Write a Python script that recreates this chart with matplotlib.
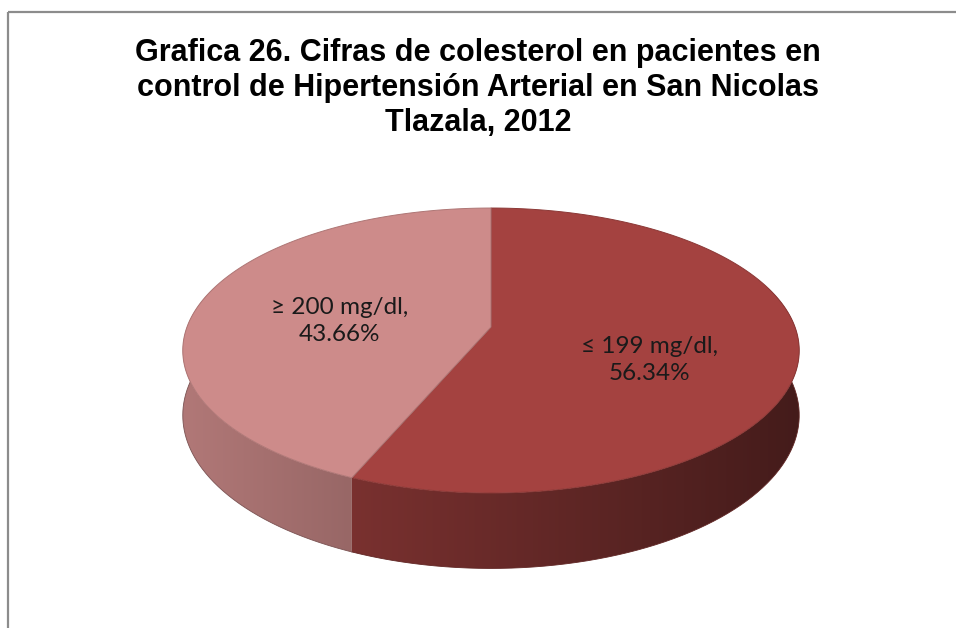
import numpy as np
import matplotlib.pyplot as plt
from matplotlib.patches import Polygon, Rectangle
from matplotlib.colors import to_rgb

# data
title = ("Grafica 26. Cifras de colesterol en pacientes en\n"
         "control de Hipertensión Arterial en San Nicolas\n"
         "Tlazala, 2012")
categories = ["≤ 199 mg/dl", "≥ 200 mg/dl"]
shares = [56.34, 43.66]
top_colors = ["#A44240", "#CD8B8A"]

# pie geometry (pixels, y down)
W, H = 956, 628
cx, cy = 491, 327
rx, ry = 304, 138.6
persp = 0.165
depth = 63


def project_uv(u, v, drop=0.0):
    s = 1.0 / (1.0 + persp * v)
    return cx + rx * u * s, cy - ry * v * s + drop * s


def project(theta, r=1.0, drop=0.0):
    return project_uv(r * np.cos(theta), r * np.sin(theta), drop)


fig = plt.figure(figsize=(W / 100, H / 100), dpi=100)
ax = fig.add_axes([0, 0, 1, 1])
ax.set_xlim(0, W)
ax.set_ylim(H, 0)
ax.axis("off")

# chart frame
ax.add_patch(Rectangle((8, 12), W + 20, H + 20, fill=False,
                       edgecolor="#8c8c8c", lw=1.6, zorder=0))

fracs = np.array(shares) / sum(shares)
starts = np.pi / 2 - 2 * np.pi * np.concatenate([[0], np.cumsum(fracs)[:-1]])
ends = starts - 2 * np.pi * fracs

# side wall (front half plus a bit), shaded left to right
gx = np.linspace(cx - rx - 10, cx + rx + 10, 400)
for a0, a1, col in zip(starts, ends, top_colors):
    lo, hi = max(a1, -np.pi - 0.3), min(a0, 0.3)
    if lo >= hi:
        continue
    t = np.linspace(hi, lo, 300)
    tx, ty = project(t)
    bx, by = project(t[::-1], drop=depth)
    side = Polygon(list(zip(tx, ty)) + list(zip(bx, by)), closed=True,
                   facecolor="none", edgecolor="none")
    ax.add_patch(side)
    base = np.array(to_rgb(col))
    f = 0.64 - 0.22 * (gx - cx) / rx
    img = np.clip(base[None, None, :] * f[None, :, None], 0, 1)
    im = ax.imshow(img, extent=(gx[0], gx[-1], cy + 2 * ry + depth, cy - 2 * ry),
                   aspect="auto", interpolation="bilinear", zorder=2)
    im.set_clip_path(side)
    edge = np.clip(base * 0.6, 0, 1)
    ax.plot(bx, by, color=edge, lw=0.6, zorder=2.5)

# top face
for a0, a1, col in zip(starts, ends, top_colors):
    t = np.linspace(a0, a1, 400)
    xs, ys = project(t)
    pts = [(cx, cy)] + list(zip(xs, ys))
    edge = np.clip(np.array(to_rgb(col)) * 0.85, 0, 1)
    ax.add_patch(Polygon(pts, closed=True, facecolor=col, edgecolor=edge,
                         lw=0.7, zorder=3))

# labels
for a0, a1, name, val in zip(starts, ends, categories, shares):
    tm = 0.5 * (a0 + a1)
    lx, ly = project_uv(0.52 * np.cos(tm), 0.72 * np.sin(tm))
    ax.text(lx, ly + 13, f"{name},\n{val:.2f}%", ha="center", va="center",
            fontsize=17.5, color="#1a1a1a", family=["Lato", "DejaVu Sans"],
            linespacing=1.35, zorder=4)

fig.text(0.50, 1 - 88 / H, title, ha="center", va="center",
         fontsize=22, fontweight="bold", family="Liberation Sans",
         linespacing=1.2, color="black")

fig.savefig("out.png", dpi=100)
